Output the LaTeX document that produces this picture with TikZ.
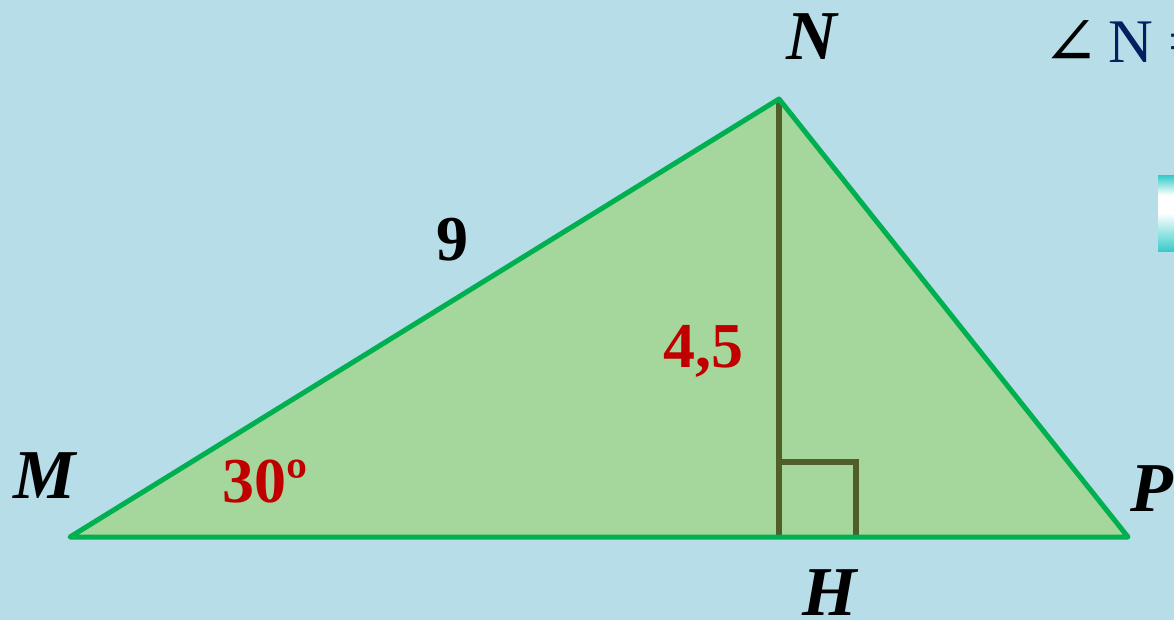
\documentclass[tikz,border=0pt]{standalone}
\usepackage{fontspec}
\setmainfont{Liberation Serif}
\newfontfamily\symfont{DejaVu Serif}
\begin{document}
\begin{tikzpicture}[x=1pt,y=-1pt,
  lbl/.style={font=\fontsize{70}{70}\selectfont\bfseries\itshape, anchor=base, inner sep=0pt},
  num/.style={font=\fontsize{64}{64}\selectfont\bfseries, anchor=base, inner sep=0pt},
  side/.style={draw=triedge, line width=5pt, line join=round},
  alt/.style={draw=altcol, line width=6pt}]
\definecolor{bg}{HTML}{B7DDE8}
\definecolor{trifill}{HTML}{A5D69B}
\definecolor{triedge}{HTML}{00B050}
\definecolor{altcol}{HTML}{505E2A}
\definecolor{redlbl}{HTML}{C00000}
\definecolor{navy}{HTML}{002060}
\definecolor{cyanbox}{HTML}{3CCBCB}
\useasboundingbox (0,0) rectangle (1174,620);
\clip (0,0) rectangle (1174,620);
\fill[bg] (0,0) rectangle (1174,620);
% cyan gradient box
\shade[top color=cyanbox, bottom color=white, middle color=white] (1158,176) rectangle (1180,214);
\shade[top color=white, bottom color=cyanbox] (1158,213) rectangle (1180,251);
% vertices
\coordinate (M) at (70,537);
\coordinate (N) at (779,99);
\coordinate (P) at (1128,537);
\coordinate (H) at (779,537);
\coordinate (Q1) at (779,462);
\coordinate (Q2) at (856,462);
\coordinate (Q3) at (856,537);
\fill[trifill] (M) -- (N) -- (P) -- cycle;
\draw[alt] (Q1) -- (Q2) -- (Q3);
\draw[alt] (N) -- (H);
\draw[side] (M) -- (N) -- (P) -- cycle;
% labels
\node[lbl] (lN) at (812,60) {N};
\node[lbl] (lM) at (45,498) {M};
\node[lbl, anchor=base west] (lP) at (1130,511) {P};
\node[lbl] (lH) at (830,615) {H};
\node[num] (l9) at (452,260) {9};
\node[num, text=redlbl] (l45) at (703,367) {4,5};
\node[num, text=redlbl] (l30) at (265,502) {30º};
% angle text cut at right edge
\node[anchor=base west, inner sep=0pt, font=\fontsize{68}{68}\selectfont\symfont] (ang) at (1042,66) {∠};
\node[anchor=base west, inner sep=0pt, font=\fontsize{62}{62}\selectfont, text=navy] (angN) at (1108,63) {N =};
\end{tikzpicture}
\end{document}
